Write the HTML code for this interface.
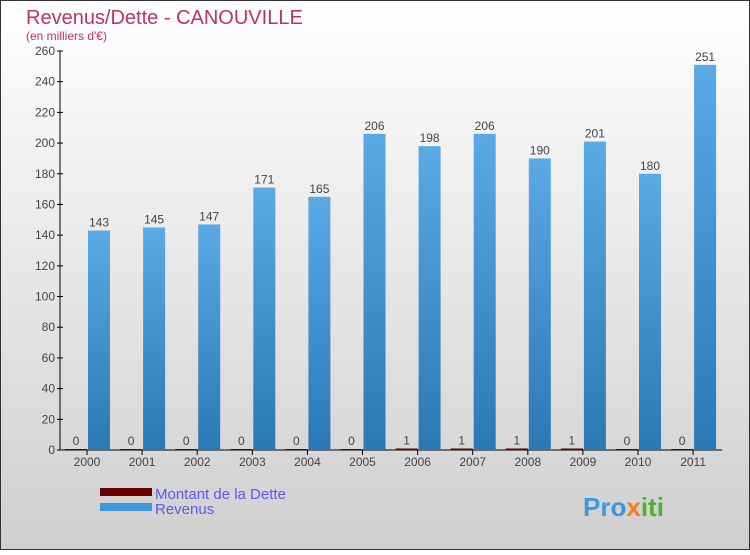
<!DOCTYPE html>
<html><head><meta charset="utf-8"><style>
body{margin:0}
#c{width:750px;height:550px;position:relative;font-family:"Liberation Sans",sans-serif}
</style></head><body>
<div id="c">
<svg width="750" height="550" id="s">
<defs>
<linearGradient id="bg" x1="0" y1="0" x2="0" y2="1"><stop offset="0" stop-color="#ffffff"/><stop offset="1" stop-color="#cfcfcf"/></linearGradient>
<linearGradient id="rv" x1="0" y1="0" x2="0" y2="1"><stop offset="0" stop-color="#5aaae6"/><stop offset="1" stop-color="#2a78b4"/></linearGradient>
</defs>
<rect x="0.5" y="0.5" width="749" height="549" fill="url(#bg)" stroke="#333"/>
<text x="26" y="24" font-size="20" fill="#c0306a">Revenus/Dette - CANOUVILLE</text>
<text x="26" y="40" font-size="12" fill="#c0306a">(en milliers d'€)</text>
<g id="plot"></g>
<rect x="100" y="488" width="52" height="8" fill="#6b0000"/>
<text x="155" y="499" font-size="15" fill="#5b5bf0">Montant de la Dette</text>
<rect x="100" y="503" width="52" height="8" fill="#3a98e0"/>
<text x="155" y="514" font-size="15" fill="#5b5bf0">Revenus</text>
<text x="583" y="516" font-size="26" font-weight="bold" fill="#3a98e0">Pro<tspan fill="#f08020">x</tspan><tspan fill="#50b030">iti</tspan></text>
</svg>
</div>
<script>
const categories=["2000","2001","2002","2003","2004","2005","2006","2007","2008","2009","2010","2011"];
const debt=[0,0,0,0,0,0,1,1,1,1,0,0];
const revenue=[143,145,147,171,165,206,198,206,190,201,180,251];
const yTicks=[0,20,40,60,80,100,120,140,160,180,200,220,240,260];
const NS="http://www.w3.org/2000/svg";
const g=document.getElementById('plot');
const y=v=>450-v*(399/260);
const x=i=>87+i*55.1;
function mk(t,a){const e=document.createElementNS(NS,t);for(const k in a)e.setAttribute(k,a[k]);g.appendChild(e);return e;}
let ax=mk('line',{x1:60,y1:450,x2:722,y2:450,stroke:'#000'});


let ay=mk('line',{x1:60,y1:450,x2:60,y2:51,stroke:'#000'});


yTicks.forEach(v=>{
 let l=mk('line',{x1:57,x2:63,y1:y(v),y2:y(v),stroke:'#000'});
 
 
 let t=mk('text',{x:55,y:y(v)+4,'text-anchor':'end','font-size':12,fill:'#444'});
 t.textContent=v;
 
 
});
categories.forEach((c,i)=>{
 let l=mk('line',{x1:x(i),x2:x(i),y1:450,y2:455,stroke:'#000'});
 
 
 let t=mk('text',{x:x(i),y:466,'text-anchor':'middle','font-size':12,fill:'#444'});
 t.textContent=c;
 
 
 let hd=Math.max(y(0)-y(debt[i]),1);
 let d=mk('rect',{x:x(i)-22,y:450-hd,width:22,height:hd,fill:'#6b0000'});
 
 
 let dt=mk('text',{x:x(i)-11,y:450-hd-4,'text-anchor':'middle','font-size':12,fill:'#444'});
 dt.textContent=debt[i];
 
 
 let r=mk('rect',{x:x(i)+1,y:y(revenue[i]),width:22,height:450-y(revenue[i]),fill:'url(#rv)'});
 
 
 let rt=mk('text',{x:x(i)+12,y:y(revenue[i])-4,'text-anchor':'middle','font-size':12,fill:'#444'});
 rt.textContent=revenue[i];
 
 
});
</script>
</body></html>
